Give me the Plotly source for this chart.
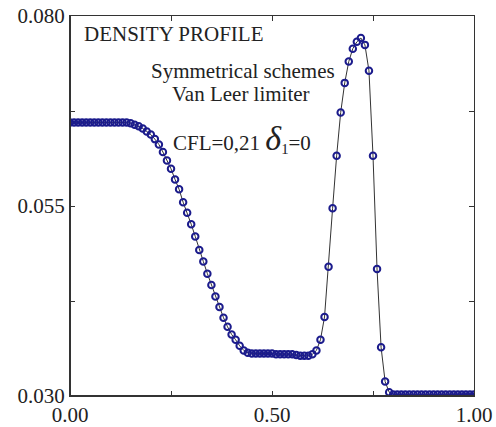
import plotly.graph_objects as go

# ---- data ----
x_vals = [i / 100 for i in range(101)]
density = (
    [0.0660] * 15 +
    [0.0659, 0.0657, 0.0655, 0.0652, 0.0648, 0.0644, 0.0638, 0.0631, 0.0621, 0.0610,
     0.0599, 0.0585, 0.0572, 0.0555, 0.0541, 0.0526, 0.0510, 0.0492, 0.0477, 0.0461,
     0.0446, 0.0431, 0.0417, 0.0403, 0.0391, 0.0381, 0.0374, 0.0366, 0.0360, 0.0357,
     0.0356] +
    [0.0356, 0.0356, 0.0356, 0.0356, 0.0356] +
    [0.0355, 0.0355, 0.0355, 0.0355, 0.0355] +
    [0.0354, 0.0353, 0.0353, 0.0353, 0.0355, 0.0360, 0.0374, 0.0404, 0.0470, 0.0547,
     0.0616, 0.0673, 0.0712, 0.0740, 0.0757, 0.0766, 0.0771, 0.0762, 0.0728, 0.0616,
     0.0467, 0.0364, 0.0319, 0.0305] +
    [0.0302] * 21
)

x_tick_vals = [0.0, 0.5, 1.0]
x_tick_text = ["0.00", "0.50", "1.00"]
x_minor_vals = [0.25, 0.75]
y_tick_vals = [0.030, 0.055, 0.080]
y_tick_text = ["0.030", "0.055", "0.080"]
y_minor_vals = [0.0425, 0.0675]

FONT = "Liberation Serif"
TXT = "#222222"
NAVY = "#1b1b8c"

fig = go.Figure()
fig.add_trace(go.Scatter(
    x=x_vals, y=density, mode="lines+markers",
    line=dict(color="#333333", width=1),
    marker=dict(symbol="circle-open", size=6.5, color=NAVY, line=dict(width=2, color=NAVY)),
    showlegend=False,
))

axis_common = dict(
    showgrid=False, zeroline=False, showline=True, linecolor="#333333", linewidth=1,
    mirror="ticks", ticks="inside", ticklen=5, tickwidth=1, tickcolor="#333333",
    tickfont=dict(family=FONT, size=21, color=TXT), automargin=False,
)

fig.update_layout(
    width=496, height=427,
    margin=dict(l=70, r=22, t=16, b=31),
    paper_bgcolor="white", plot_bgcolor="white",
    xaxis=dict(range=[0, 1], tickvals=x_tick_vals, ticktext=x_tick_text,
               minor=dict(tickvals=x_minor_vals, ticks="inside", ticklen=5, tickwidth=1,
                          tickcolor="#333333", showgrid=False),
               **axis_common),
    yaxis=dict(range=[0.030, 0.080], tickvals=y_tick_vals, ticktext=y_tick_text,
               minor=dict(tickvals=y_minor_vals, ticks="inside", ticklen=5, tickwidth=1,
                          tickcolor="#333333", showgrid=False),
               **axis_common),
    font=dict(family=FONT, size=21, color=TXT),
)

# thicker left and bottom axis lines
fig.add_shape(type="line", xref="paper", yref="paper", x0=0, x1=0, y0=0, y1=1,
              line=dict(color="#333333", width=2))
fig.add_shape(type="line", xref="paper", yref="paper", x0=0, x1=1, y0=0, y1=0,
              line=dict(color="#333333", width=2))

ann = dict(xref="paper", yref="paper", showarrow=False,
           font=dict(family=FONT, size=21, color=TXT))
fig.add_annotation(text="DENSITY PROFILE", x=0.030, y=0.953, xanchor="left", yanchor="middle", **ann)
fig.add_annotation(text="Symmetrical schemes", x=0.427, y=0.856, xanchor="center", yanchor="middle", **ann)
fig.add_annotation(text="Van Leer limiter", x=0.424, y=0.794, xanchor="center", yanchor="middle", **ann)
fig.add_annotation(
    text="CFL=0,21 <span style='font-size:34px'><i>δ</i></span><sub>1</sub>=0",
    x=0.426, y=0.678, xanchor="center", yanchor="middle", **ann)

fig.write_html("out.html")
